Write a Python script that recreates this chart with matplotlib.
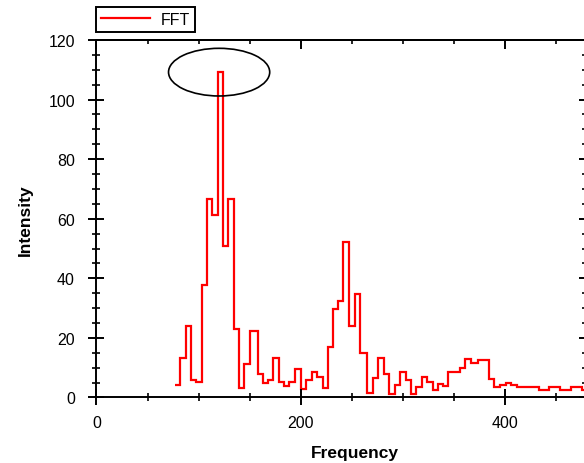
import matplotlib
matplotlib.use("Agg")
import matplotlib.pyplot as plt
from matplotlib.patches import Ellipse
from matplotlib.ticker import MultipleLocator, NullFormatter

plt.rcParams['font.family'] = ['Liberation Sans', 'DejaVu Sans']

# FFT bins: edges (frequency) and intensity of each bin
freq_edges = [76.4, 82.0, 87.8, 92.6, 97.6, 103.0, 108.0, 113.5, 118.6, 123.8,
              129.0, 134.4, 139.5, 144.7, 150.0, 157.7, 162.8, 168.0, 173.2, 178.5,
              183.3, 188.7, 194.2, 200.0, 205.0, 210.5, 216.0, 221.2, 226.2, 231.2,
              236.2, 241.5, 247.0, 252.8, 258.0, 265.0, 270.8, 275.6, 281.0, 286.4,
              291.8, 297.3, 302.8, 307.5, 312.8, 318.2, 323.8, 329.0, 334.5, 339.5,
              344.4, 355.9, 360.8, 366.8, 373.0, 383.8, 389.4, 395.3, 401.0, 406.0,
              411.1, 433.0, 443.0, 453.8, 464.4, 475.0, 486.0]
intensity = [4.1, 13.3, 24.1, 6.0, 5.2, 37.6, 66.5, 61.2, 109.3, 51.0,
             66.5, 22.9, 3.2, 11.4, 22.2, 8.0, 4.9, 6.0, 13.2, 5.2,
             4.0, 5.2, 9.6, 3.0, 6.0, 8.7, 6.9, 3.1, 16.8, 29.6,
             32.4, 52.2, 24.0, 34.9, 15.0, 1.4, 6.6, 13.2, 7.9, 1.3,
             4.3, 8.7, 5.8, 1.2, 3.6, 6.8, 5.1, 2.6, 4.5, 4.0,
             8.6, 9.8, 12.9, 11.7, 12.5, 6.1, 3.5, 4.3, 5.0, 4.3,
             3.5, 2.6, 3.5, 2.6, 3.5, 2.6]

# highlighted main peak
peak_center = (120, 109.2)
peak_size = (99, 16)

fig = plt.figure(figsize=(5.84, 4.64), dpi=100)
ax = fig.add_axes([0.1652, 0.1412, 0.840, 0.7705])

ax.stairs(intensity, freq_edges, color='#ff0000', linewidth=1.6, baseline=None, label='FFT')
ax.add_patch(Ellipse(peak_center, peak_size[0], peak_size[1], fill=False,
                     edgecolor='black', linewidth=1.2, clip_on=False))

ax.set_xlim(0, 480)
ax.set_ylim(0, 120)

ax.xaxis.set_major_locator(MultipleLocator(200))
ax.xaxis.set_minor_locator(MultipleLocator(50))
ax.yaxis.set_major_locator(MultipleLocator(20))
ax.yaxis.set_minor_locator(MultipleLocator(5))

for s in ax.spines.values():
    s.set_linewidth(1.4)

ax.tick_params(which='major', direction='inout', length=11, width=1.4, labelsize=11.5)
ax.tick_params(which='minor', direction='inout', length=5.5, width=1.2)
ax.tick_params(axis='x', which='major', pad=7)
ax.tick_params(axis='y', which='major', pad=10)

# mirrored ticks on top and right, pointing inward
top = ax.secondary_xaxis('top')
top.xaxis.set_major_locator(MultipleLocator(200))
top.xaxis.set_minor_locator(MultipleLocator(50))
top.xaxis.set_major_formatter(NullFormatter())
top.tick_params(which='major', direction='in', length=6.5, width=1.4)
top.tick_params(which='minor', direction='in', length=3, width=1.2)
top.spines['top'].set_linewidth(1.4)

right = ax.secondary_yaxis('right')
right.yaxis.set_major_locator(MultipleLocator(20))
right.yaxis.set_minor_locator(MultipleLocator(5))
right.yaxis.set_major_formatter(NullFormatter())
right.tick_params(which='major', direction='in', length=6, width=1.4)
right.tick_params(which='minor', direction='in', length=3.3, width=1.2)
right.spines['right'].set_linewidth(1.4)

ax.set_xlabel('Frequency', fontsize=12.5, fontweight='bold')
ax.xaxis.set_label_coords(0.527, -0.133)
ax.set_ylabel('Intensity', fontsize=12.5, fontweight='bold')
ax.yaxis.set_label_coords(-0.13, 0.5)

ax.legend(loc='upper left', bbox_to_anchor=(96 / 584, 1 - 8 / 464), bbox_transform=fig.transFigure,
          fontsize=11.5, frameon=True, fancybox=False, edgecolor='black', framealpha=1,
          handlelength=3.1, handletextpad=0.65, borderpad=0.3, borderaxespad=0)
ax.get_legend().get_frame().set_linewidth(1.4)

plt.savefig('out.png', dpi=100)
